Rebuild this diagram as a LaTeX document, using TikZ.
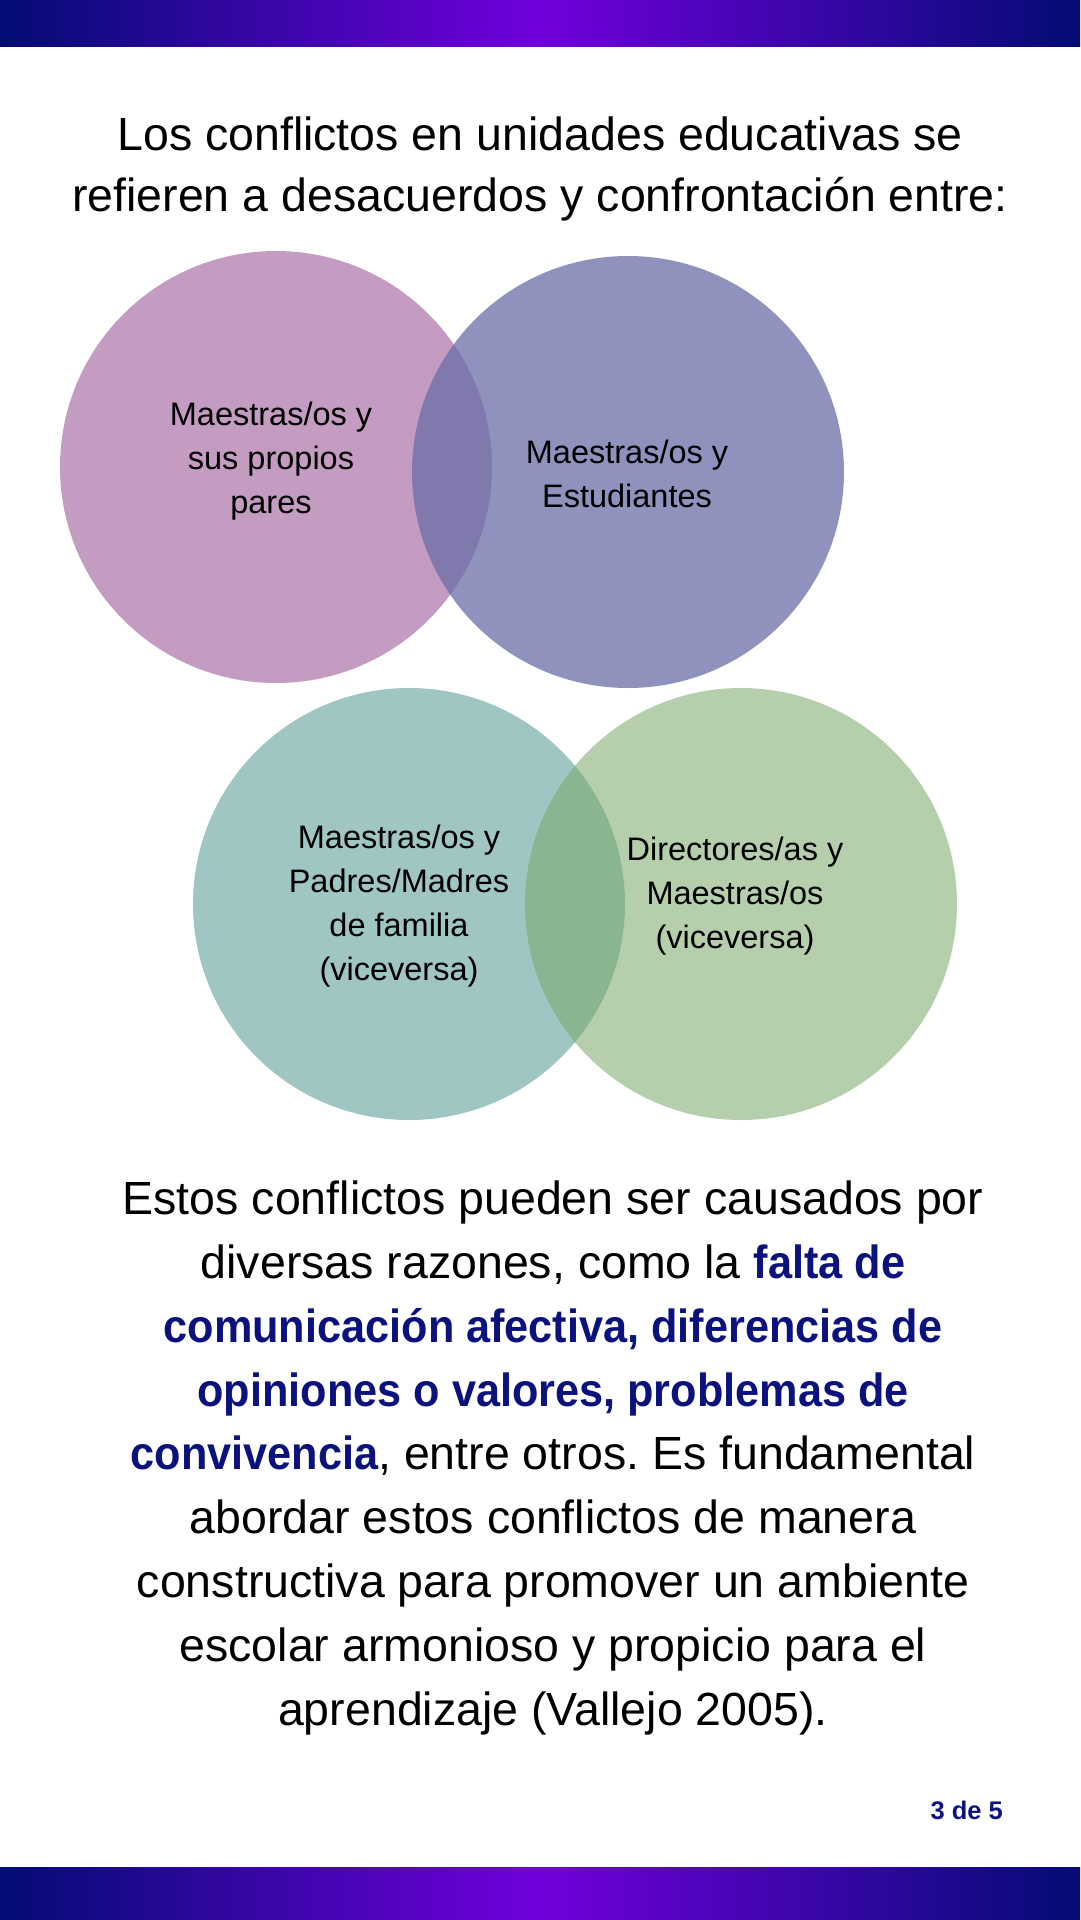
\documentclass[tikz,border=0pt]{standalone}
\usepackage{fontspec}
\setmainfont{Liberation Sans}
\usetikzlibrary{positioning}
\definecolor{BarNavy}{HTML}{030C75}
\definecolor{BarViolet}{HTML}{7100DC}
\definecolor{Orchid}{HTML}{C49CC1}
\definecolor{SlateBlue}{HTML}{6A6EA8}
\definecolor{SeaTeal}{HTML}{9FC6C2}
\definecolor{Sage}{HTML}{78A869}
\definecolor{NavyText}{HTML}{0B127E}
\newcommand{\keyterm}[1]{{\bfseries\addfontfeatures{FakeStretch=0.93}\color{NavyText}#1}}
\frenchspacing

\begin{document}
\begin{tikzpicture}[x=1pt, y=-1pt,
  bar/.style={left color=BarNavy, right color=BarNavy, middle color=BarViolet},
  blob/.style={circle, minimum size=432pt, inner sep=0pt},
  tag/.style={align=center, font=\fontsize{32.5}{44}\selectfont, inner sep=0pt, anchor=base},
  para/.style={align=center, font=\fontsize{46.5}{63.8}\selectfont, inner sep=0pt, anchor=base}
]
\fill[white] (0,0) rectangle (1080,1920);
\useasboundingbox (0,0) rectangle (1080,1920);
\shade[bar] (0,0) rectangle (1080,46);
\shade[bar] (0,1867) rectangle (1080,1920);

% base = last line
\node[para, font=\fontsize{46.5}{61.5}\selectfont] (intro) at (540,211.5)
  {Los conflictos en unidades educativas se\\refieren a desacuerdos y confrontación entre:};

% circulos
\node[blob, fill=Orchid] (pares) at (276,467) {};
\node[blob, fill=SlateBlue, fill opacity=0.75] (estud) at (628,472) {};
\node[blob, fill=SeaTeal] (padres) at (409,904) {};
\node[blob, fill=Sage, fill opacity=0.54] (direct) at (741,904) {};

\node[tag] (paresLbl) at (271,513) {Maestras/os y\\sus propios\\pares};
\node[tag] (estudLbl) at (627,507) {Maestras/os y\\Estudiantes};
\node[tag] (padresLbl) at (399,980) {Maestras/os y\\Padres/Madres\\de familia\\(viceversa)};
\node[tag] (directLbl) at (735,948) {Directores/as y\\Maestras/os\\(viceversa)};

\node[para] (causas) at (553,1725) {Estos conflictos pueden ser causados por\\
  diversas razones, como la \keyterm{falta de}\\
  \keyterm{comunicación afectiva, diferencias de}\\
  \keyterm{opiniones o valores, problemas de}\\
  \keyterm{convivencia}, entre otros. Es fundamental\\
  abordar estos conflictos de manera\\
  constructiva para promover un ambiente\\
  escolar armonioso y propicio para el\\
  aprendizaje (Vallejo 2005).};

\node[font=\bfseries\fontsize{25.5}{30}\selectfont, text=NavyText, anchor=base east, inner sep=0pt] (pagina) at (1003,1819) {3 de 5};
\end{tikzpicture}
\end{document}
